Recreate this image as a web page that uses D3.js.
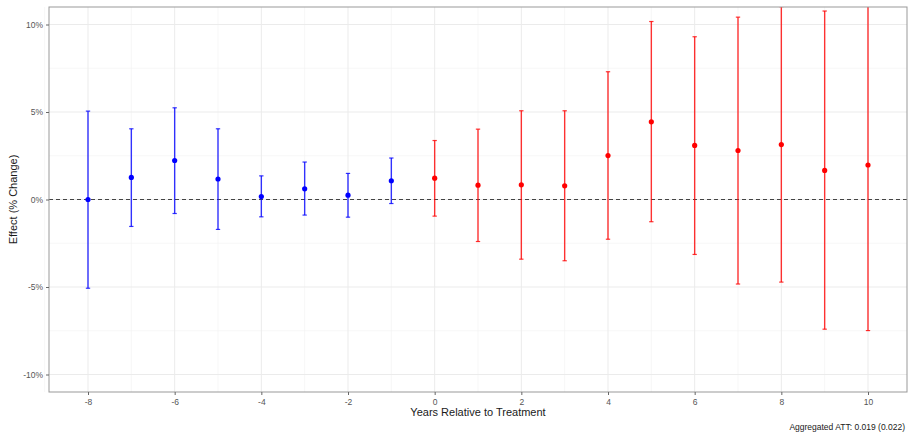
<!DOCTYPE html>
<html>
<head>
<meta charset="utf-8">
<script src="https://cdn.jsdelivr.net/npm/d3@7"></script>
<style>
  body { margin: 0; background: #fff; }
  svg { font-family: "Liberation Sans", Arial, sans-serif; }
</style>
</head>
<body>
<div id="chart"></div>
<script>
// event time, point estimate and CI bounds (in %)
let years    = [-8, -7, -6, -5, -4, -3, -2, -1, 0, 1, 2, 3, 4, 5, 6, 7, 8, 9, 10];
let estimate = [0.0, 1.26, 2.23, 1.17, 0.17, 0.61, 0.25, 1.07, 1.22, 0.82, 0.84, 0.78, 2.51, 4.44, 3.09, 2.80, 3.14, 1.66, 1.97];
let lower    = [-5.07, -1.54, -0.80, -1.71, -0.99, -0.89, -1.01, -0.23, -0.95, -2.40, -3.41, -3.50, -2.27, -1.27, -3.14, -4.83, -4.72, -7.41, -7.49];
let upper    = [5.05, 4.04, 5.24, 4.04, 1.35, 2.14, 1.49, 2.37, 3.37, 4.02, 5.07, 5.07, 7.30, 10.17, 9.30, 10.42, 11.02, 10.77, 11.43];
let xTicks = [-8, -6, -4, -2, 0, 2, 4, 6, 8, 10];
let yTicks = [-10, -5, 0, 5, 10];
let caption = "Aggregated ATT: 0.019 (0.022)";

let data = years.map((d, i) => ({ year: d, est: estimate[i], lo: lower[i], hi: upper[i] }));

let margin = { top: 7, right: 1, bottom: 41, left: 49 };
let width = 908 - margin.left - margin.right,
    height = 433 - margin.top - margin.bottom;

let svg = d3.select("#chart").append("svg")
    .attr("width", 908)
    .attr("height", 433);

let g = svg.append("g")
    .attr("transform", "translate(" + margin.left + "," + margin.top + ")");

let x = d3.scaleLinear().domain([-8.9, 10.9]).range([0, width]);
let y = d3.scaleLinear().domain([-11, 11]).range([height, 0]);

g.append("clipPath").attr("id", "panel")
    .append("rect").attr("width", width).attr("height", height);

// grid: minor then major
let grid = g.append("g");
grid.selectAll(".xminor").data(d3.range(-9, 12, 2)).enter().append("line")
    .attr("x1", d => x(d)).attr("x2", d => x(d)).attr("y1", 0).attr("y2", height)
    .attr("stroke", "#f2f2f2").attr("stroke-width", 0.6);
grid.selectAll(".yminor").data([-7.5, -2.5, 2.5, 7.5]).enter().append("line")
    .attr("y1", d => y(d)).attr("y2", d => y(d)).attr("x1", 0).attr("x2", width)
    .attr("stroke", "#f2f2f2").attr("stroke-width", 0.6);
grid.selectAll(".xmajor").data(xTicks).enter().append("line")
    .attr("x1", d => x(d)).attr("x2", d => x(d)).attr("y1", 0).attr("y2", height)
    .attr("stroke", "#ebebeb").attr("stroke-width", 1);
grid.selectAll(".ymajor").data(yTicks).enter().append("line")
    .attr("y1", d => y(d)).attr("y2", d => y(d)).attr("x1", 0).attr("x2", width)
    .attr("stroke", "#ebebeb").attr("stroke-width", 1);

// zero line
g.append("line")
    .attr("x1", 0).attr("x2", width).attr("y1", y(0)).attr("y2", y(0))
    .attr("stroke", "#444").attr("stroke-width", 1.2).attr("stroke-dasharray", "4,3");

let marks = g.append("g").attr("clip-path", "url(#panel)");
let color = d => d.year < 0 ? "#0000ff" : "#ff0000";
let cap = x(0.05) - x(0);

marks.selectAll(".bar").data(data).enter().append("line")
    .attr("x1", d => x(d.year)).attr("x2", d => x(d.year))
    .attr("y1", d => y(d.lo)).attr("y2", d => y(d.hi))
    .attr("stroke", color).attr("stroke-width", 1.4).attr("stroke-opacity", 0.8);
marks.selectAll(".capLo").data(data).enter().append("line")
    .attr("x1", d => x(d.year) - cap).attr("x2", d => x(d.year) + cap)
    .attr("y1", d => y(d.lo)).attr("y2", d => y(d.lo))
    .attr("stroke", color).attr("stroke-width", 1.2).attr("stroke-opacity", 0.8);
marks.selectAll(".capHi").data(data).enter().append("line")
    .attr("x1", d => x(d.year) - cap).attr("x2", d => x(d.year) + cap)
    .attr("y1", d => y(d.hi)).attr("y2", d => y(d.hi))
    .attr("stroke", color).attr("stroke-width", 1.2).attr("stroke-opacity", 0.8);
marks.selectAll("circle").data(data).enter().append("circle")
    .attr("cx", d => x(d.year)).attr("cy", d => y(d.est)).attr("r", 2.6)
    .attr("fill", color);

// panel border
g.append("rect").attr("width", width).attr("height", height)
    .attr("fill", "none").attr("stroke", "#999").attr("stroke-width", 1);

// axes (plain hyphen for negatives, like the original)
let xAxis = d3.axisBottom(x).tickValues(xTicks).tickSize(3).tickPadding(4)
    .tickFormat(d => String(d));
let yAxis = d3.axisLeft(y).tickValues(yTicks).tickSize(3).tickPadding(3)
    .tickFormat(d => String(d) + "%");

g.append("g").attr("transform", "translate(0," + height + ")").call(xAxis)
    .call(a => a.select(".domain").remove());
g.append("g").call(yAxis)
    .call(a => a.select(".domain").remove());
g.selectAll(".tick line").attr("stroke", "#666");
g.selectAll(".tick text").attr("fill", "#555").style("font-size", "8.5px");

// titles
svg.append("text")
    .attr("x", margin.left + width / 2).attr("y", 416)
    .attr("text-anchor", "middle").style("font-size", "11px").attr("fill", "#1a1a1a")
    .text("Years Relative to Treatment");
svg.append("text")
    .attr("transform", "translate(17," + (margin.top + height / 2) + ") rotate(-90)")
    .attr("text-anchor", "middle").style("font-size", "11px").attr("fill", "#1a1a1a")
    .text("Effect (% Change)");
svg.append("text")
    .attr("x", 905).attr("y", 430)
    .attr("text-anchor", "end").style("font-size", "8.5px").attr("fill", "#1a1a1a")
    .text(caption);
</script>
</body>
</html>
